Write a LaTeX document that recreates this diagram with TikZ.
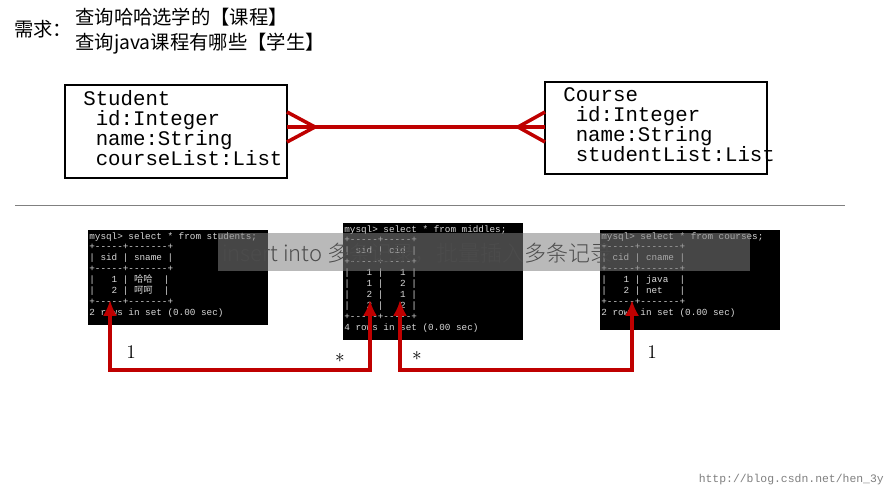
\documentclass[tikz,border=0pt]{standalone}
\usepackage{fontspec}
\setmonofont{Liberation Mono}
\newfontfamily\cjk{Noto Sans CJK SC}
\newfontfamily\cjklight{Noto Sans CJK SC Light}
\usetikzlibrary{arrows.meta,positioning}
\tikzset{classtext/.style = {anchor=north west, align=left, inner sep=0pt, font=\ttfamily\fontsize{11.8}{11.4}\selectfont}}
\tikzset{term/.style = {fill=black}}
\tikzset{termtext/.style = {anchor=north west, align=left, inner sep=0pt, text=white!85!black, font=\ttfamily\fontsize{5.3}{6.2}\selectfont}}
\tikzset{redlink/.style = {draw=red!75!black, line width=2.2pt, -{Latex[length=.9em,width=.8em]}}}
\tikzset{mult/.style = {font=\fontsize{11}{12}\selectfont}}
\begin{document}
\begin{tikzpicture}[x=0.02cm, y=-0.02cm]
    \useasboundingbox[fill=white] (0,0) rectangle (895,490);
    % requirement
    \node[anchor=west, font=\cjk\fontsize{11}{12}\selectfont] (need) at (8,29) {需求：};
    \node[anchor=north west, align=left, inner sep=0pt, font=\cjk\fontsize{11}{14.2}\selectfont] (query) at (75,8) {查询哈哈选学的【课程】\\查询java课程有哪些【学生】};

    % classes
    \draw[thick] (65,85) rectangle (287,178);
    \node[classtext] (student) at (83,90) {Student\\~id:Integer\\~name:String\\~courseList:List};
    \draw[thick] (545,82) rectangle (767,174);
    \node[classtext] (course) at (563,87) {Course\\~id:Integer\\~name:String\\~studentList:List};
    \coordinate (sEnd) at (287,127);
    \coordinate (cEnd) at (545,127);
    \coordinate (sTip) at (315,127);
    \coordinate (cTip) at (518,127);
    \draw[red!75!black, line width=2pt] (sEnd) -- (cEnd);
    \draw[red!75!black, line width=2pt] (287,112) -- (sTip) -- (287,142);
    \draw[red!75!black, line width=2pt] (545,112) -- (cTip) -- (545,142);

    \draw[gray] (15,205) -- (845,205);

    % tables
    \fill[term] (88,230) rectangle (268,325);
    \node[termtext] (students) at (89,232) {mysql> select * from students;\\+-----+-------+\\|~sid~|~sname~|\\+-----+-------+\\|~~~1~|~{\cjk 哈哈}~~|\\|~~~2~|~{\cjk 呵呵}~~|\\+-----+-------+\\2 rows in set (0.00 sec)};
    \fill[term] (343,223) rectangle (523,340);
    \node[termtext] (middles) at (344,225) {mysql> select * from middles;\\+-----+-----+\\|~sid~|~cid~|\\+-----+-----+\\|~~~1~|~~~1~|\\|~~~1~|~~~2~|\\|~~~2~|~~~1~|\\|~~~2~|~~~2~|\\+-----+-----+\\4 rows in set (0.00 sec)};
    \fill[term] (600,230) rectangle (780,330);
    \node[termtext] (courses) at (601,232) {mysql> select * from courses;\\+-----+-------+\\|~cid~|~cname~|\\+-----+-------+\\|~~~1~|~java~~|\\|~~~2~|~net~~~|\\+-----+-------+\\2 rows in set (0.00 sec)};

    % links
    \coordinate (a) at (110,370);
    \coordinate (b) at (370,370);
    \coordinate (c) at (400,370);
    \coordinate (d) at (632,370);
    \draw[redlink] (b) -- (a) -- (110,300);
    \draw[redlink] (a) -- (b) -- (370,300);
    \draw[redlink] (d) -- (c) -- (400,300);
    \draw[redlink] (c) -- (d) -- (632,300);
    \node[mult] (m1) at (131,352) {1};
    \node[mult] (m2) at (340,358) {$\ast$};
    \node[mult] (m3) at (417,356) {$\ast$};
    \node[mult] (m4) at (652,352) {1};

    % banner
    \fill[gray, opacity=.55] (218,233) rectangle (750,271);
    \node[anchor=west, text=black!70, font=\cjklight\fontsize{12.5}{14}\selectfont] (banner) at (216,253) {insert into 多条记录，批量插入多条记录};

    \node[anchor=east, text=gray, font=\ttfamily\fontsize{6.5}{7}\selectfont] (mark) at (890,480) {http://blog.csdn.net/hen\_3y};
\end{tikzpicture}
\end{document}
